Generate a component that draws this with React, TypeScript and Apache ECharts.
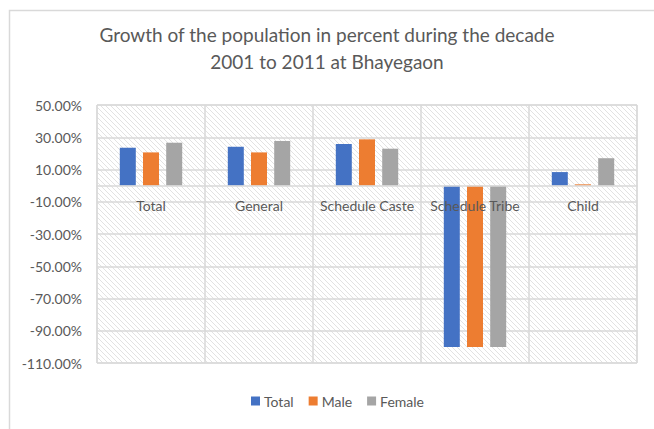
import React, { useEffect, useRef } from "react";
import * as echarts from "echarts";

const categories = ["Total", "General", "Schedule Caste", "Schedule Tribe", "Child"];
const totalValues = [23.5, 24.1, 25.8, -100, 8.4];
const maleValues = [20.6, 20.6, 28.7, -100, 0.8];
const femaleValues = [26.6, 27.7, 22.9, -100, 17.0];
const seriesNames = ["Total", "Male", "Female"];
const seriesColors = ["#4472C4", "#ED7D31", "#A5A5A5"];
const yTicks = [-110, -90, -70, -50, -30, -10, 10, 30, 50];
const titleLines = [
  "Growth of the population in percent during the decade",
  "2001 to 2011 at Bhayegaon",
];

const FONT = "Lato, 'Open Sans', sans-serif";
const TEXT = "#595959";
const GRID = "#d9d9d9";

const CHART_H = 429;
const GRID_TOP = 105;
const GRID_BOTTOM = 66;
const Y_MIN = yTicks[0];
const Y_MAX = yTicks[yTicks.length - 1];

const hatchSvg =
  "<svg xmlns='http://www.w3.org/2000/svg' width='5' height='5'>" +
  "<path d='M0,0 L5,5 M-1,4 L1,6 M4,-1 L6,1' stroke='#e2e2e2' stroke-width='1'/></svg>";
const hatchUrl = "data:image/svg+xml;charset=utf-8," + encodeURIComponent(hatchSvg);

export default function App() {
  const ref = useRef<HTMLDivElement>(null);
  useEffect(() => {
    if (!ref.current) return;
    const chart = echarts.init(ref.current, null, { renderer: "svg" });
    const seriesData = [totalValues, maleValues, femaleValues];
    const plotH = CHART_H - GRID_TOP - GRID_BOTTOM;
    const zeroOffset = -((0 - Y_MIN) / (Y_MAX - Y_MIN)) * plotH;
    chart.setOption({
      animation: false,
      backgroundColor: "#ffffff",
      textStyle: { fontFamily: FONT },
      title: {
        text: titleLines.join("\n"),
        left: "center",
        top: 16,
        textStyle: {
          fontFamily: FONT,
          fontSize: 19,
          fontWeight: "normal",
          color: TEXT,
          lineHeight: 27,
        },
      },
      graphic: [
        {
          type: "rect",
          left: 7,
          top: 8,
          shape: { width: 700, height: 500 },
          style: { fill: "none", stroke: GRID, lineWidth: 1.5 },
          silent: true,
        },
      ],
      legend: {
        data: seriesNames,
        bottom: 16,
        left: 246,
        itemWidth: 9,
        itemHeight: 9,
        itemGap: 15,
        icon: "rect",
        textStyle: { fontFamily: FONT, fontSize: 14, color: TEXT, padding: [0, 0, 0, -1] },
      },
      grid: {
        left: 97,
        right: 17,
        top: GRID_TOP,
        bottom: GRID_BOTTOM,
        show: true,
        borderColor: GRID,
        borderWidth: 1,
        backgroundColor: {
          image: hatchUrl,
          repeat: "repeat",
          imageWidth: 5,
          imageHeight: 5,
        },
      },
      xAxis: {
        type: "category",
        data: categories,
        z: 3,
        position: "bottom",
        offset: zeroOffset,
        axisLine: { show: true, onZero: false, lineStyle: { color: GRID, width: 1.5 } },
        axisTick: { show: false },
        axisLabel: { color: TEXT, fontSize: 14, fontFamily: FONT, margin: 13, interval: 0 },
        splitLine: { show: true, lineStyle: { color: GRID, width: 1.5 } },
      },
      yAxis: {
        type: "value",
        min: Y_MIN,
        max: Y_MAX,
        axisLine: { show: false },
        axisTick: { show: false, customValues: yTicks },
        axisLabel: {
          customValues: yTicks,
          color: TEXT,
          fontSize: 14,
          fontFamily: FONT,
          margin: 15,
          formatter: (v: number) => v.toFixed(2) + "%",
        },
        splitLine: { show: true, lineStyle: { color: GRID, width: 1.5 } },
      },
      series: seriesNames.map((name, i) => ({
        name,
        type: "bar",
        data: seriesData[i],
        barWidth: 16,
        barGap: "45%",
        itemStyle: { color: seriesColors[i] },
      })),
    });
    return () => chart.dispose();
  }, []);
  return (
    <div
      ref={ref}
      style={{ position: "fixed", left: 0, top: 0, width: 654, height: 429 }}
    />
  );
}
